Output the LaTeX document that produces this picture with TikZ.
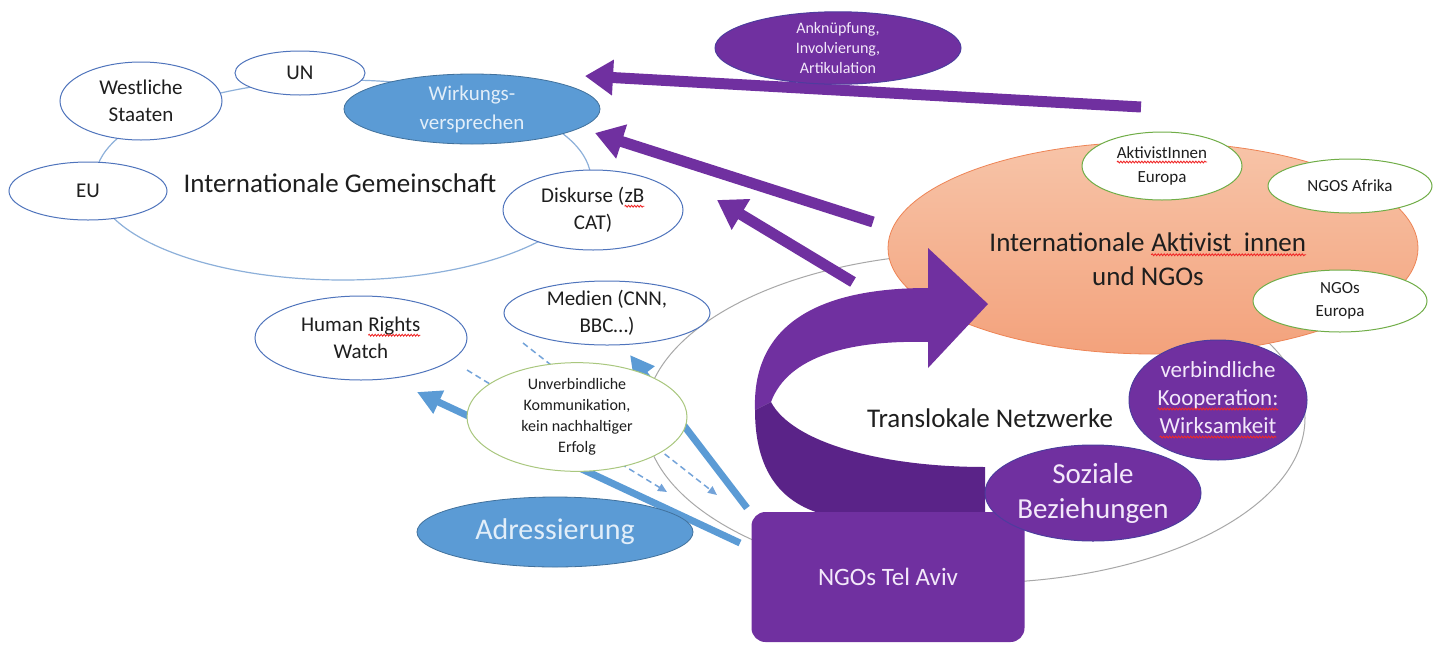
\documentclass[tikz,border=0pt]{standalone}
\usepackage{fontspec}
\setmainfont{Carlito}
\usetikzlibrary{shapes.geometric,arrows.meta,decorations.pathmorphing}

\definecolor{purp}{HTML}{7030A0}
\definecolor{purpdark}{HTML}{5A2388}
\definecolor{purptext}{HTML}{F3E8FA}
\definecolor{purpedge}{HTML}{4E3C9E}
\definecolor{bluefill}{HTML}{5B9BD5}
\definecolor{blueline}{HTML}{41719C}
\definecolor{bluetext}{HTML}{E2EEF9}
\definecolor{blueedge}{HTML}{4F74BC}
\definecolor{bigedge}{HTML}{8DB0DA}
\definecolor{grayedge}{HTML}{A8A8A8}
\definecolor{greenedge}{HTML}{70AD47}
\definecolor{lightgreen}{HTML}{A9C77E}
\definecolor{orangetop}{HTML}{F7C4A8}
\definecolor{orangebot}{HTML}{F3A27C}
\definecolor{orangeedge}{HTML}{EE8455}
\definecolor{txt}{HTML}{1E1E1E}
\definecolor{dashblue}{HTML}{73A3D9}
\definecolor{wavered}{HTML}{F02828}

\newcommand{\fs}[2]{\fontsize{#1}{#2}\selectfont}
% word with a red wavy underline
\newcommand{\wavyword}[1]{\tikz[baseline=(ww.base)]{\node[shape=rectangle,inner sep=0pt,outer sep=0pt,minimum width=0pt,minimum height=0pt,draw=none,fill=none](ww){#1};\draw[draw=wavered,fill=none,line width=0.9pt,decorate,decoration={snake,amplitude=0.9pt,segment length=3pt}]([yshift=-3.5pt]ww.base west)--([yshift=-3.5pt]ww.base east);}}

\tikzset{
  dims/.style 2 args={minimum width=#1pt, minimum height=#2pt},
  ell/.style={ellipse, inner sep=0pt, align=center},
  whiteell/.style={ell, draw=blueedge, line width=1pt, fill=white, text=txt, font=\fs{21}{27}},
  greenell/.style={ell, draw=greenedge, line width=1pt, fill=white, text=txt, font=\fs{17}{23}},
  blueell/.style={ell, draw=blueline, line width=0.8pt, fill=bluefill, text=bluetext},
  purpell/.style={ell, fill=purp, draw=purpedge, line width=1pt, text=purptext},
  label/.style={text=txt, font=\fs{27}{34}, align=center},
  purparrow/.style={draw=purp, line width=11pt, -{Triangle[length=28pt,width=34pt]}},
  bluearrow/.style={draw=bluefill, line width=7pt, -{Triangle[length=24pt,width=24pt]}},
  dasharrow/.style={draw=dashblue, line width=1.5pt, dash pattern=on 6pt off 4pt, -{Triangle[length=9pt,width=8pt]}}
}

\begin{document}
\begin{tikzpicture}[x=1pt,y=-1pt]
\useasboundingbox (0,0) rectangle (1433,646);
\fill[white] (0,0) rectangle (1433,646);

% outer rings
\node[ell, draw=bigedge, line width=1.2pt, dims={496}{200}] (ig) at (343,180) {};
\node[ell, draw=grayedge, line width=1pt, dims={660}{330}] (tl) at (975,418) {};
\node[ell, dims={530}{212}, top color=orangetop, bottom color=orangebot, draw=orangeedge, line width=0.8pt] (orng) at (1153,248) {};

% purple arrows towards the promise of impact
\coordinate (pa1s) at (1141,107); \coordinate (pa1e) at (585,76);
\coordinate (pa2s) at (873,222);  \coordinate (pa2e) at (595,133);
\coordinate (pa3s) at (853,282);  \coordinate (pa3e) at (717,200);
\draw[purparrow] (pa1s) -- (pa1e);
\draw[purparrow] (pa2s) -- (pa2e);
\draw[purparrow] (pa3s) -- (pa3e);

% blue addressing arrows
\coordinate (ba1s) at (740,543); \coordinate (ba1e) at (417,392);
\coordinate (ba2s) at (747,508); \coordinate (ba2e) at (630,355);
\draw[bluearrow] (ba1s) -- (ba1e);
\draw[bluearrow] (ba2s) -- (ba2e);
\coordinate (da1s) at (467,370); \coordinate (da1e) at (667,492);
\coordinate (da2s) at (523,343); \coordinate (da2e) at (717,495);
\draw[dasharrow] (da1s) -- (da1e);
\draw[dasharrow] (da2s) -- (da2e);

% international community
\node[whiteell, dims={162}{78}] (west) at (141,101) {Westliche\\Staaten};
\node[whiteell, dims={130}{44}] (un) at (300,73) {UN};
\node[whiteell, dims={158}{58}] (eu) at (88,191) {EU};
\node[whiteell, dims={180}{80}] (disk) at (593,210) {Diskurse (\wavyword{zB}\\CAT)};
\node[blueell, dims={256}{70}, font=\fs{21}{29}] (wirk) at (472,109) {Wirkungs-\\versprechen};
\node[label] (iglabel) at (340,183) {Internationale Gemeinschaft};

% media and watchdogs
\node[whiteell, dims={206}{62}] (medien) at (607,313) {Medien (CNN,\\BBC\dots)};
\node[whiteell, dims={212}{84}] (hrw) at (361,338) {Human \wavyword{Rights}\\Watch};
\node[ell, draw=lightgreen, line width=1pt, fill=white, text=txt, font=\fs{16}{21}, dims={220}{92}] (unv) at (577,417) {Unverbindliche\\Kommunikation,\\kein nachhaltiger\\Erfolg};
\node[blueell, dims={276}{70}, font=\fs{30}{36}] (adr) at (555,532) {Adressierung};

% top label
\node[purpell, dims={246}{60}, font=\fs{16}{20}] (ank) at (838,48) {Anknüpfung,\\Involvierung,\\Artikulation};

% international activists
\node[label] (oelabel) at (1148,259) {Internationale \wavyword{Aktivist\hspace{0.45em}innen}\\und NGOs};
\node[greenell, dims={160}{68}, font=\fs{17}{24}] (aktiv) at (1162,166) {\wavyword{AktivistInnen}\\Europa};
\node[greenell, dims={164}{54}] (afrika) at (1350,186) {NGOS Afrika};
\node[greenell, dims={174}{62}] (ngoeu) at (1340,301) {NGOs\\Europa};

% curved arrow from Tel Aviv into the network
\fill[purp] (755,410) .. controls (752,322) and (822,288) .. (928,288)
  -- (928,248) -- (988,304) -- (928,368) -- (928,342)
  .. controls (850,340) and (788,356) .. (771,402) -- cycle;
\fill[purpdark] (771,402) .. controls (792,442) and (880,467) .. (985,467)
  -- (985,516) -- (830,516) .. controls (780,505) and (755,470) .. (755,410) -- cycle;

\node[label] (tllabel) at (990,418) {Translokale Netzwerke};

% local NGOs and their relations
\node[rectangle, rounded corners=14pt, fill=purp, dims={273}{130}, text=purptext, font=\fs{25}{30}] (tel) at (888,577) {NGOs Tel Aviv};
\node[purpell, dims={216}{96}, font=\fs{29}{35}] (soz) at (1093,493) {Soziale\\Beziehungen};
\node[purpell, dims={178}{120}, font=\fs{23}{28}] (verb) at (1218,400) {verbindliche\\\wavyword{Kooperation:}\\\wavyword{Wirksamkeit}};
\end{tikzpicture}
\end{document}
